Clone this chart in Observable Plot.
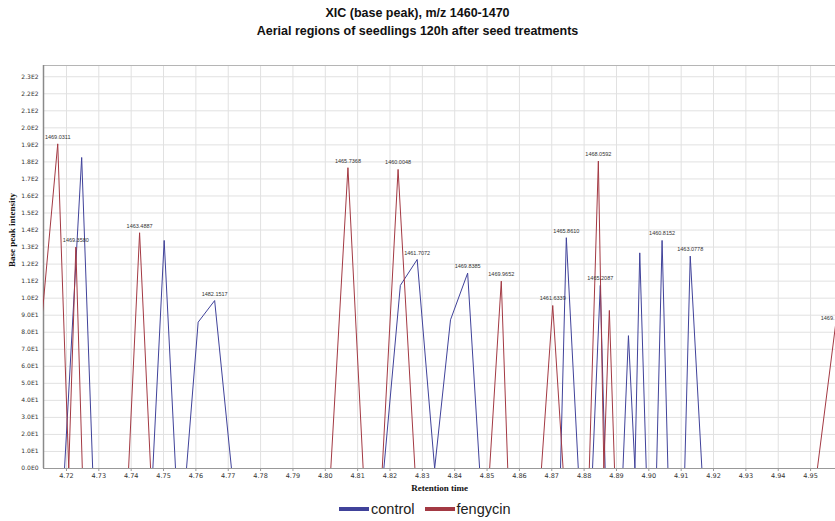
<!DOCTYPE html>
<html>
<head>
<meta charset="utf-8">
<script src="https://cdn.jsdelivr.net/npm/d3@7"></script>
<script src="https://cdn.jsdelivr.net/npm/@observablehq/plot@0.6"></script>
<style>
  html, body { margin: 0; padding: 0; background: #fff; }
  body { width: 835px; height: 521px; overflow: hidden; font-family: "Liberation Sans", Arial, sans-serif; }
  #title { height: 40px; box-sizing: border-box; padding-top: 4px; text-align: center; font-weight: bold; font-size: 12.5px; color: #111; }
  #title div { line-height: 18px; }
  #chart svg { display: block; }
  #legend { height: 28px; box-sizing: border-box; padding-top: 4px; padding-left: 339px; display: flex; align-items: center; }
  #legend .item { display: flex; align-items: center; height: 24px; margin-right: 10px; font-size: 14.5px; color: #222; }
  #legend .sw { width: 30px; height: 4px; margin-right: 2px; }
</style>
</head>
<body>
<div id="title">
  <div>XIC (base peak), m/z 1460-1470</div>
  <div>Aerial regions of seedlings 120h after seed treatments</div>
</div>
<div id="chart"></div>
<div id="legend"></div>
<script>
// ---- Data ----
const seriesNames = ["control", "fengycin"];
const seriesColors = ["#40429a", "#a33943"];

// control (blue) trace: retention time (min), base peak intensity, peak annotation
const controlRT = [4.7100, 4.7194, 4.7247, 4.7281, 4.7467, 4.7502, 4.7537, 4.7571, 4.7607, 4.7658, 4.7710,
  4.8181, 4.8232, 4.8284, 4.8338, 4.8387, 4.8440, 4.8477, 4.8727, 4.8745, 4.8782,
  4.8826, 4.8850, 4.8865, 4.8920, 4.8937, 4.8957, 4.8972, 4.8992, 4.9024, 4.9041, 4.9059,
  4.9111, 4.9128, 4.9164, 4.9600];
const controlI = [0, 0, 182.6, 0, 0, 133.9, 0, 0, 85.9, 98.6, 0,
  0, 107.5, 122.7, 0, 87.3, 114.7, 0, 0, 135.5, 0,
  0, 107.5, 0, 0, 78, 0, 126.6, 0, 0, 133.9, 0,
  0, 124.7, 0, 0];
const controlLabel = [null, null, null, null, null, null, null, null, null, "1482.1517", null,
  null, null, "1461.7072", null, null, "1469.8385", null, null, "1465.8610", null,
  null, "1465.2087", null, null, null, null, null, null, null, "1460.8152", null,
  null, "1463.0778", null, null];

// fengycin (red) trace
const fengycinRT = [4.7082, 4.7173, 4.7207, 4.7229, 4.7249, 4.7392, 4.7426, 4.7460,
  4.8017, 4.8070, 4.8117, 4.8176, 4.8225, 4.8277, 4.8508, 4.8544, 4.8564,
  4.8668, 4.8703, 4.8735, 4.8816, 4.8844, 4.8861, 4.8878, 4.8894, 4.9521, 4.9577];
const fengycinI = [0, 190.6, 0, 130, 0, 0, 138.4, 0,
  0, 176.6, 0, 0, 175.6, 0, 0, 110, 0,
  0, 95.7, 0, 0, 180.5, 0, 92.8, 0, 0, 84];
const fengycinLabel = [null, "1469.0311", null, "1469.3580", null, null, "1463.4887", null,
  null, "1465.7368", null, null, "1460.0048", null, null, "1469.9652", null,
  null, "1461.6339", null, null, "1468.0592", null, null, null, null, "1469."];

// axes
const xTicks = [4.72, 4.73, 4.74, 4.75, 4.76, 4.77, 4.78, 4.79, 4.80, 4.81, 4.82, 4.83,
  4.84, 4.85, 4.86, 4.87, 4.88, 4.89, 4.90, 4.91, 4.92, 4.93, 4.94, 4.95];
const yTicks = [0, 10, 20, 30, 40, 50, 60, 70, 80, 90, 100, 110, 120, 130, 140, 150,
  160, 170, 180, 190, 200, 210, 220, 230];
const xDomain = [4.7129, 4.9577];
const yDomain = [0, 236.6];
const xTitle = "Retention time";
const yTitle = "Base peak intensity";

// ---- Build table ----
const rows = [];
controlRT.forEach((t, i) => rows.push({series: "control", rt: t, I: controlI[i], label: controlLabel[i]}));
fengycinRT.forEach((t, i) => rows.push({series: "fengycin", rt: t, I: fengycinI[i], label: fengycinLabel[i]}));
const labelled = rows.filter(d => d.label && d.rt < xDomain[1]);
const edgeLabelled = rows.filter(d => d.label && d.rt >= xDomain[1]);

const yFmt = d => d.toExponential(1).replace("e+", "E").replace("e-", "E-");
const labelStyle = {x: "rt", y: "I", text: "label", lineAnchor: "bottom", dy: -5,
  fontSize: 5.5, fill: "#333", fontFamily: "Liberation Sans, Arial, sans-serif"};

const plot = Plot.plot({
  width: 835,
  height: 453,
  marginLeft: 43,
  marginRight: 0,
  marginTop: 25,
  marginBottom: 25,
  style: {fontFamily: "DejaVu Sans, sans-serif", color: "#333", background: "#fff"},
  x: {domain: xDomain},
  y: {domain: yDomain},
  color: {domain: seriesNames, range: seriesColors},
  marks: [
    Plot.gridX({ticks: xTicks, stroke: "#e1e1e1", strokeOpacity: 1}),
    Plot.gridY({ticks: yTicks, stroke: "#e1e1e1", strokeOpacity: 1}),
    Plot.ruleY([yDomain[1]], {stroke: "#b5b5b5"}),
    Plot.ruleX([xDomain[0]], {stroke: "#8a8a8a", strokeWidth: 1.5}),
    Plot.ruleY([0], {stroke: "#999"}),
    Plot.line(rows, {x: "rt", y: "I", z: "series", stroke: "series", strokeWidth: 1, clip: true}),
    Plot.text(labelled, labelStyle),
    Plot.text(edgeLabelled, {...labelStyle, textAnchor: "end", dx: -1}),
    Plot.axisX({ticks: xTicks, tickFormat: d3.format(".2f"), tickSize: 3, tickPadding: 2,
      fontSize: 6.5, label: null, stroke: "#999"}),
    Plot.axisY({ticks: yTicks, tickFormat: yFmt, tickSize: 0, tickPadding: 5,
      fontSize: 6, label: null}),
    Plot.text([xTitle], {frameAnchor: "bottom", dy: 20, lineAnchor: "middle", fontSize: 9,
      fontWeight: "bold", fontFamily: "Liberation Serif, serif", fill: "#111"}),
    Plot.text([yTitle], {frameAnchor: "left", dx: -31, rotate: -90, fontSize: 9,
      fontWeight: "bold", fontFamily: "Liberation Serif, serif", fill: "#111"})
  ]
});
document.getElementById("chart").appendChild(plot);

const legend = document.getElementById("legend");
seriesNames.forEach((name, i) => {
  const item = document.createElement("div");
  item.className = "item";
  const sw = document.createElement("span");
  sw.className = "sw";
  sw.style.background = seriesColors[i];
  const tx = document.createElement("span");
  tx.textContent = name;
  item.appendChild(sw);
  item.appendChild(tx);
  legend.appendChild(item);
});
</script>
</body>
</html>
